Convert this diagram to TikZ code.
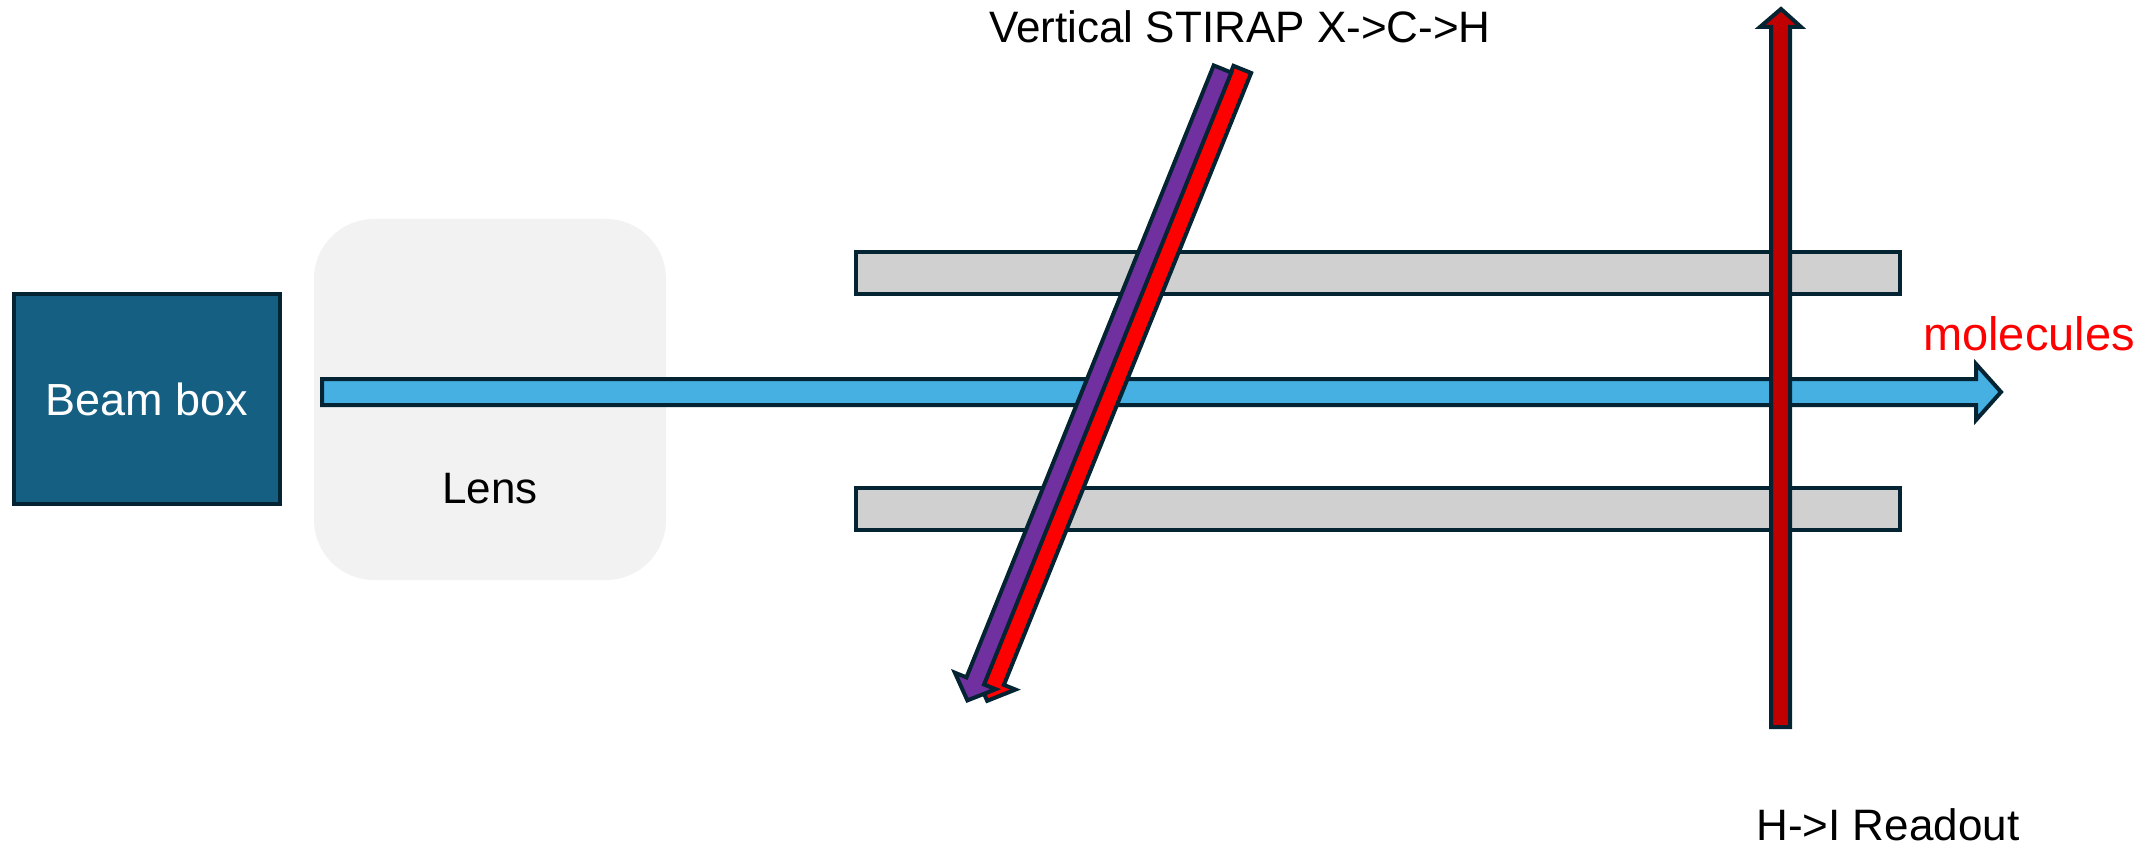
\documentclass[tikz,border=0pt]{standalone}
\usepackage{fontspec}
\setmainfont{Liberation Sans}
\definecolor{edge}{HTML}{042433}
\definecolor{beamc}{HTML}{156082}
\definecolor{lensc}{HTML}{F2F2F2}
\definecolor{barc}{HTML}{D0D0D0}
\definecolor{beamline}{HTML}{45B0E1}
\definecolor{purp}{HTML}{7030A0}
\definecolor{darkred}{HTML}{C00000}
\definecolor{brightred}{HTML}{FF0000}
\begin{document}
\begin{tikzpicture}[x=0.5pt,y=0.5pt,
  outl/.style={draw=edge, line width=2pt, line join=miter},
  lbl/.style={font=\fontsize{22}{26}\selectfont, inner sep=0pt},
  biglbl/.style={font=\fontsize{23.5}{28}\selectfont, inner sep=0pt},
  lensbox/.style={fill=lensc, rounded corners=30pt, minimum width=176pt, minimum height=180.5pt, inner sep=0pt},
  beambox/.style={outl, fill=beamc, minimum width=133pt, minimum height=105pt, inner sep=0pt},
  barbox/.style={outl, fill=barc, minimum width=522pt, minimum height=21pt, inner sep=0pt}
]
\useasboundingbox (0,0) rectangle (2149,848);
% lens
\node[lensbox] (lens) at (490,448.5) {};
\node[lbl] (lenslabel) at (490,359) {Lens};
% beam box
\node[beambox, text=white, font=\fontsize{22.5}{27}\selectfont] (beam) at (147,449) {Beam box};
% plates
\node[barbox] (topbar) at (1378,575) {};
\node[barbox] (botbar) at (1378,339) {};
% molecule beam
\path[outl, fill=beamline] (322,443) -- (1976,443) -- (1976,428) -- (2001,456)
  -- (1976,484) -- (1976,469) -- (322,469) -- cycle;
% diagonal STIRAP beams
\begin{scope}[shift={(1242.3,778.6)}, rotate=248]
  \path[outl, fill=brightred] (0,-9.5) -- (660,-9.5) -- (660,-22) -- (681,0)
    -- (660,22) -- (660,9.5) -- (0,9.5) -- cycle;
\end{scope}
\begin{scope}[shift={(1222.5,779)}, rotate=248]
  \path[outl, fill=purp] (0,-9.5) -- (660,-9.5) -- (660,-22) -- (681,0)
    -- (660,22) -- (660,9.5) -- (0,9.5) -- cycle;
\end{scope}
% readout beam
\path[outl, fill=darkred] (1771,121) -- (1790,121) -- (1790,821) -- (1801,821)
  -- (1781,839) -- (1760,821) -- (1771,821) -- cycle;
% labels
\node[lbl] (stirap) at (1240,821) {Vertical STIRAP X->C->H};
\node[biglbl, text=brightred] (molecules) at (2029,514) {molecules};
\node[lbl, anchor=west] (readout) at (1756,23) {H->I Readout};
\end{tikzpicture}
\end{document}
